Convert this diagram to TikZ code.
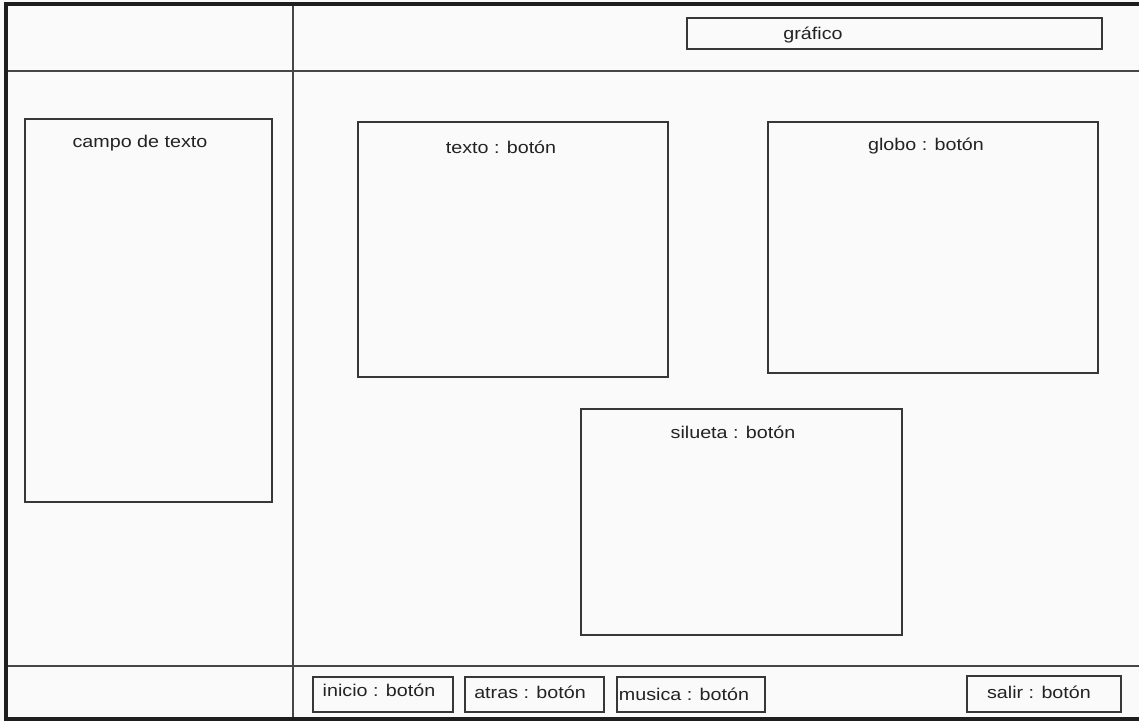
\documentclass[tikz,border=0pt]{standalone}
\usepackage{fontspec}
\setmainfont{Liberation Sans}[FakeStretch=1.16]
\usetikzlibrary{fit}
\definecolor{paper}{RGB}{250,250,250}
\definecolor{frameink}{RGB}{30,30,30}
\definecolor{lineink}{RGB}{70,70,70}
\definecolor{boxink}{RGB}{55,55,55}
\definecolor{textink}{RGB}{35,35,35}
\begin{document}
\begin{tikzpicture}[x=0.75pt,y=-0.75pt,
  frame/.style={draw=frameink,line width=2.6pt},
  divider/.style={draw=lineink,line width=1.6pt},
  box/.style={draw=boxink,line width=1.1pt,inner sep=0pt},
  caption/.style={font=\fontsize{12.75pt}{15pt}\selectfont,text=textink,anchor=base,inner sep=0pt}]
  % page
  \useasboundingbox (0,0) rectangle (1139,721);
  \fill[paper] (0,0) rectangle (1139,721);
  \clip (0,0) rectangle (1139,721);

  % layout grid
  \draw[divider] (6,71) -- (1150,71);
  \draw[divider] (6,666) -- (1150,666);
  \draw[divider] (293,4) -- (293,719);
  \draw[frame] (6,1150) -- (6,4) -- (1150,4);
  \draw[frame] (6,719) -- (1150,719);

  % header
  \node[box,fit={(687,18) (1102,49)}] (grafico) {};
  \node[caption] (graficoT) at (813,39) {gráfico};

  % side panel
  \node[box,fit={(25,119) (272,502)}] (campo) {};
  \node[caption] (campoT) at (140,147) {campo de texto};

  % main area
  \node[box,fit={(358,122) (668,377)}] (texto) {};
  \node[caption] (textoT) at (501,153) {texto : botón};
  \node[box,fit={(768,122) (1098,373)}] (globo) {};
  \node[caption] (globoT) at (926,150) {globo : botón};
  \node[box,fit={(581,409) (902,635)}] (silueta) {};
  \node[caption] (siluetaT) at (733,438) {silueta : botón};

  % footer buttons
  \node[box,fit={(313,677) (453,712)}] (inicio) {};
  \node[caption] (inicioT) at (379,696) {inicio : botón};
  \node[box,fit={(465,677) (604,712)}] (atras) {};
  \node[caption] (atrasT) at (530,698) {atras : botón};
  \node[box,fit={(617,677) (765,712)}] (musica) {};
  \node[caption] (musicaT) at (684,700) {musica : botón};
  \node[box,fit={(967,676) (1121,712)}] (salir) {};
  \node[caption] (salirT) at (1039,698) {salir : botón};
\end{tikzpicture}
\end{document}
